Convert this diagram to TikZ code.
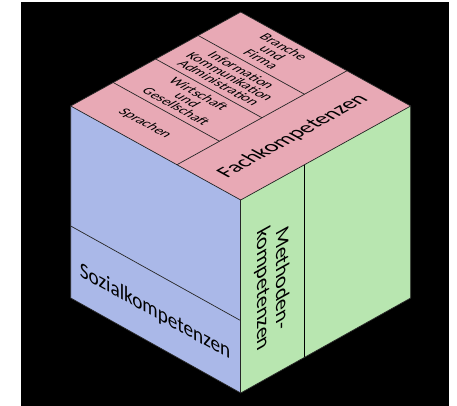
\documentclass[tikz,border=0pt]{standalone}
\usepackage{fontspec}
\setmainfont{Carlito}
\definecolor{FachRosa}{HTML}{E8A9B5}
\definecolor{SozialBlau}{HTML}{AAB8E8}
\definecolor{MethodeGruen}{HTML}{B8E6B0}
\usetikzlibrary{calc}

\begin{document}
\begin{tikzpicture}[
						x=1pt, y=-1pt,
						edge/.style={draw=black!85, line width=0.7pt},
						sep/.style={draw=black!85, line width=0.7pt},
						bigsep/.style={draw=black, line width=1.5pt},
						bigtext/.style={inner sep=0pt, align=center, font=\fontsize{22}{21}\selectfont},
						smalltext/.style={inner sep=0pt, align=center, font=\fontsize{14.5}{13}\selectfont},
						onTop/.style={transform shape, cm={0.875,0.484,-0.875,0.484,(0,0)}},
						onTopSide/.style={transform shape, cm={0.875,-0.484,0.875,0.484,(0,0)}},
						onLeft/.style={transform shape, cm={0.875,-0.484,0,1,(0,0)}},
						onRight/.style={transform shape, cm={0,-1,0.875,0.484,(0,0)}}
					]
						\useasboundingbox (0,0) rectangle (457,406);
						\fill[black] (21,2) rectangle (449,406);

						\coordinate (C) at (240.7,200);
						\coordinate (L) at (70.7,106);
						\coordinate (R) at (410.7,106);
						\coordinate (T) at (240.7,12);
						\coordinate (LB) at (70.7,298);
						\coordinate (RB) at (410.7,298);
						\coordinate (B) at (240.7,393);

						% faces
						\fill[FachRosa] (C) -- (L) -- (T) -- (R) -- cycle;
						\fill[SozialBlau] (C) -- (L) -- (LB) -- (B) -- cycle;
						\fill[MethodeGruen] (C) -- (R) -- (RB) -- (B) -- cycle;

						% divisions
						\coordinate (s0) at ($(C)!.375!(L)$);
						\coordinate (s1) at ($(R)!.375!(T)$);
						\draw[sep] (s0) -- (s1);
						\foreach \q in {0.25,0.5,0.75}
							\draw[sep] ($(L)!\q!(T)$) -- ($(s0)!\q!(s1)$);
						\draw[sep] ($(L)!.625!(LB)$) -- ($(C)!.625!(B)$);
						\draw[bigsep] ($(C)!.375!(R)$) -- ($(B)!.375!(RB)$);

						\draw[edge] (C) -- (L) -- (T) -- (R) -- cycle;
						\draw[edge] (L) -- (LB) -- (B) -- (RB) -- (R);
						\draw[edge] (C) -- (B);

						\node[bigtext, onTop] (fach) at (293,136) {Fachkompetenzen};
						\node[bigtext, onLeft] (sozial) at (155,312) {Sozialkompetenzen};
						\node[bigtext, onRight] (methoden) at (272,284) {Methoden-\\kompetenzen};

						\node[smalltext, onTopSide] (sprachen) at (145,123.6) {Sprachen};
						\node[smalltext, onTopSide] (wirtschaft) at (187.6,100.1) {Wirtschaft\\und\\Gesellschaft};
						\node[smalltext, onTopSide] (info) at (230.1,76.6) {Information\\Kommunikation\\Administration};
						\node[smalltext, onTopSide] (branche) at (272.6,53.1) {Branche\\und\\Firma};
					\end{tikzpicture}
\end{document}
